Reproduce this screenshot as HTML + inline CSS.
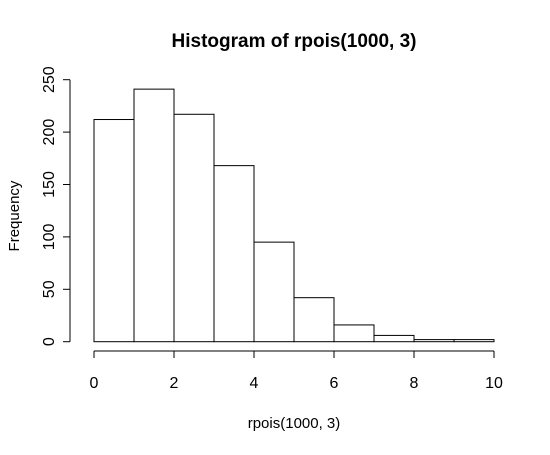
<!DOCTYPE html>
<html><head><meta charset="utf-8"><style>
body{margin:0;background:#fff}
text{font-family:"Liberation Sans",Arial,sans-serif;fill:#000}
</style></head><body>
<svg id="chart" width="550" height="450" viewBox="0 0 550 450" xmlns="http://www.w3.org/2000/svg">
<text x="294" y="47" font-size="19" font-weight="bold" text-anchor="middle">Histogram of rpois(1000, 3)</text>
<text x="294" y="428" font-size="15" text-anchor="middle">rpois(1000, 3)</text>
<text transform="translate(19,216) rotate(-90)" font-size="15" text-anchor="middle">Frequency</text>
<g id="bars"></g><g id="xaxis"></g><g id="yaxis"></g>
</svg>
<script>
const binEdges=[0,1,2,3,4,5,6,7,8,9,10];
const counts=[212,241,217,168,95,42,16,6,2,2];
const xTicks=[0,2,4,6,8,10];
const yTicks=[0,50,100,150,200,250];
const NS="http://www.w3.org/2000/svg";
const xs=v=>94+v*40;
const ys=v=>341.7-v*1.048;
function mk(t,a,p){const e=document.createElementNS(NS,t);for(const k in a)e.setAttribute(k,a[k]);p.appendChild(e);return e;}
const bars=document.getElementById('bars');
counts.forEach((c,i)=>{
 const r=mk('rect',{x:xs(binEdges[i]),y:ys(c),width:xs(binEdges[i+1])-xs(binEdges[i]),height:ys(0)-ys(c),fill:'#fff',stroke:'#000','stroke-width':1},bars);
 
 
});
const xa=document.getElementById('xaxis');
const xl=mk('line',{x1:xs(xTicks[0]),x2:xs(xTicks[xTicks.length-1]),y1:351,y2:351,stroke:'#000'},xa);


xTicks.forEach(v=>{
 mk('line',{x1:xs(v),x2:xs(v),y1:351,y2:358,stroke:'#000'},xa);
 const t=mk('text',{x:xs(v),y:388,'font-size':16,'text-anchor':'middle'},xa);t.textContent=v;
 
 
});
const ya=document.getElementById('yaxis');
const yl=mk('line',{x1:70,x2:70,y1:ys(yTicks[0]),y2:ys(yTicks[yTicks.length-1]),stroke:'#000'},ya);


yTicks.forEach(v=>{
 mk('line',{x1:63,x2:70,y1:ys(v),y2:ys(v),stroke:'#000'},ya);
 const t=mk('text',{transform:'translate(54,'+ys(v)+') rotate(-90)','font-size':16,'text-anchor':'middle'},ya);t.textContent=v;
 
 
});
</script>
</body></html>
